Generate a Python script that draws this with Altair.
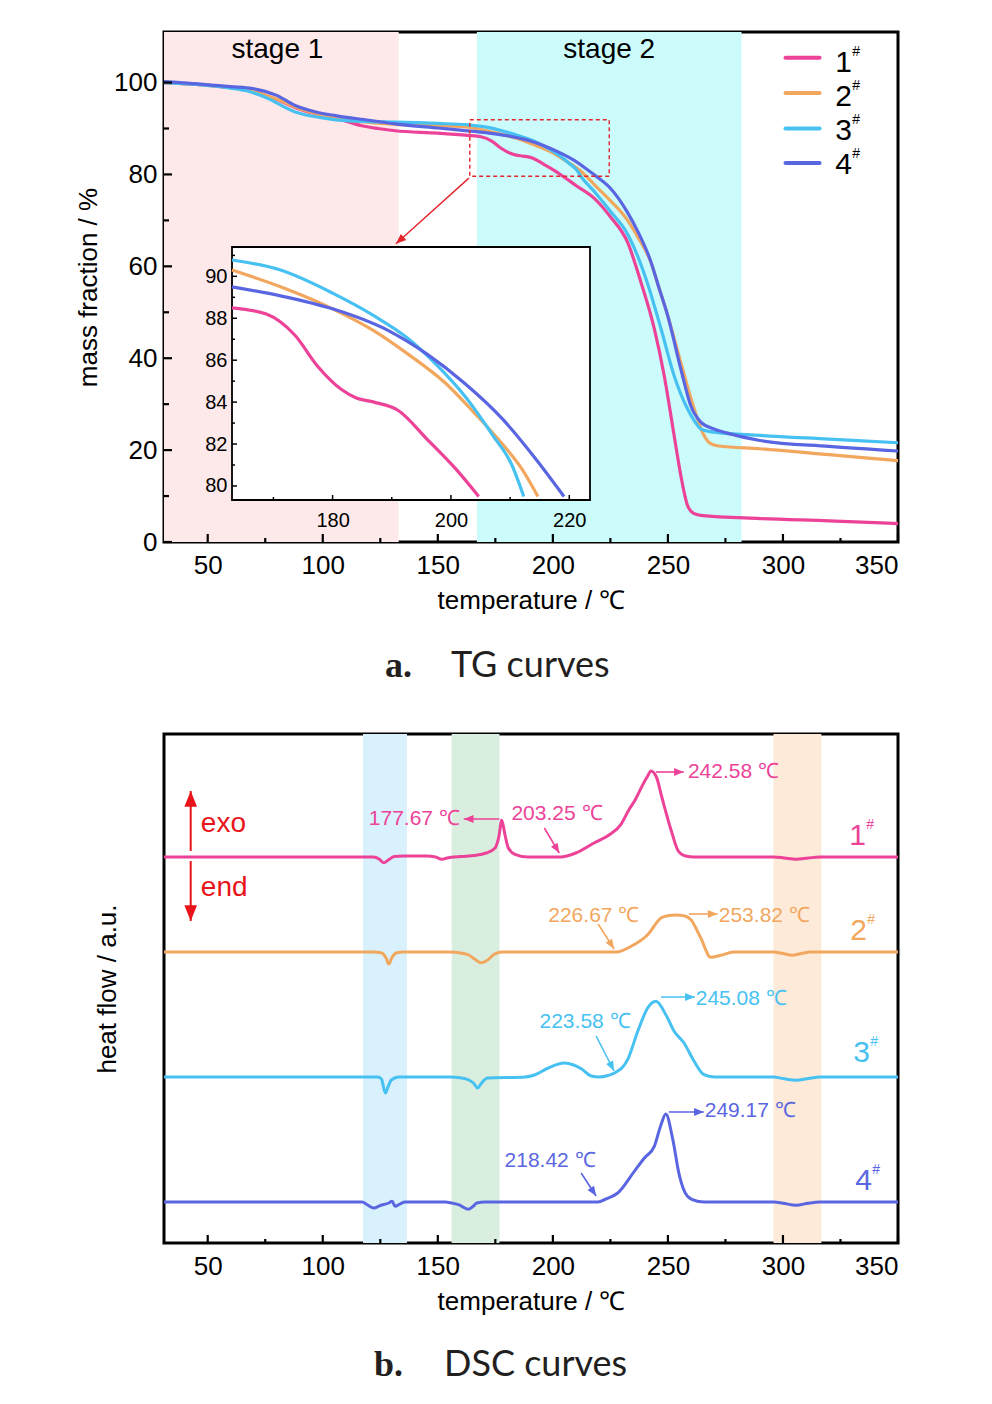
import math
import altair as alt
import pandas as pd

NARROW = "Liberation Sans Narrow, Liberation Sans, Arial, sans-serif"
SERIF = "Liberation Serif, Times New Roman, serif"
CAPF = "Lato, Open Sans, sans-serif"

series = ["1#", "2#", "3#", "4#"]
digits = ["1", "2", "3", "4"]
colors = ["#EC4399", "#F2A75F", "#46C1F1", "#5A66E1"]

# ---------------- TG data (temperature / mass fraction %) ----------------
tg1_t = [31, 45, 60, 68, 80, 90, 100, 110, 117, 124, 131.5, 150, 163, 168.8, 173.6, 177.5, 181.5, 184, 187, 191.1,
         195.9, 200.7, 204.7, 210, 218, 225, 232.5, 238.3, 244.1, 248.4, 252.7, 255.6, 258.5, 261, 264.3, 290, 320, 350]
tg1_m = [100, 99.6, 98.9, 98.3, 96.3, 94.2, 92.8, 91.6, 90.6, 90.0, 89.5, 89.0, 88.5, 88.2, 87.2, 85.7, 84.6, 84.2, 84.0, 83.6,
         82.25, 80.85, 79.5, 77.6, 74.8, 70.8, 65.2, 56.5, 46.4, 36.2, 23.2, 14.5, 8.0, 6.3, 5.8, 5.1, 4.6, 4.0]
tg2_t = [31, 45, 60, 68, 80, 90, 100, 110, 120, 131.5, 150, 163, 171.2, 180, 187, 192.7, 199.1, 203.9, 208.7, 211.9,
         214.7, 218, 225, 232.5, 237, 242.6, 246, 249.9, 255.6, 261.4, 265.7, 268.6, 272, 290, 320, 350]
tg2_m = [100, 99.6, 98.9, 98.3, 96.4, 94.3, 92.9, 91.9, 91.3, 90.9, 90.6, 90.3, 89.5, 88.45, 87.4, 86.3, 84.9, 83.5, 82.0, 80.85,
         79.5, 77.8, 74.3, 70.0, 66.3, 60.9, 55.5, 49.3, 39.1, 29.0, 23.2, 21.4, 20.9, 20.3, 19.0, 17.7]
tg3_t = [31, 45, 60, 67, 75, 88, 100, 107, 120, 131.5, 150, 163, 171.2, 180, 187.1, 192.7, 197.5, 202.3, 207.1, 210.3,
         212.3, 218, 225, 232.5, 241, 247, 252.7, 258.5, 262, 264.3, 270, 290, 320, 350]
tg3_m = [100, 99.6, 98.8, 98.2, 96.8, 93.6, 92.3, 91.8, 91.5, 91.4, 91.1, 90.78, 90.3, 89.2, 88.1, 87.05, 85.8, 84.3, 82.4, 81.0,
         79.5, 76.3, 72.0, 67.0, 56.5, 46.4, 36.2, 29.0, 26.0, 24.6, 23.9, 23.2, 22.4, 21.6]
tg4_t = [31, 38, 50, 60, 69.5, 80, 88, 97, 105.5, 120, 131.5, 150, 163, 171.2, 180, 189.5, 195.9, 202.3, 208.7, 214.3,
         219.1, 225, 232.5, 237, 242.6, 246, 249.9, 255.6, 259.9, 264.3, 270, 275.8, 290, 320, 350]
tg4_m = [100.2, 100, 99.5, 99.1, 98.7, 97.2, 95.0, 93.6, 92.8, 91.8, 91.0, 90.1, 89.5, 89.07, 88.45, 87.4, 86.3, 84.9, 83.2, 81.3,
         79.5, 77.0, 71.7, 67.5, 61.0, 55.5, 49.3, 37.7, 29.7, 26.1, 24.6, 23.7, 22.1, 20.8, 19.8]

tg_x_domain = [31, 350]
tg_y_domain = [0, 111]
tg_bands_lo = [31, 167]
tg_bands_hi = [133, 282]
tg_band_colors = ["#FDE9E9", "#CBFCFB"]
stage_labels = ["stage 1", "stage 2"]
stage_T = [80.3, 224.5]
stage_m = [107, 107]

zoom_box = [163.9, 224.5, 79.6, 91.9]          # T0, T1, m0, m1
zoom_arrow = [163.5, 79.2, 131.8, 64.9]         # from (T, m) to (T, m)

legend_line_T = [301.1, 315.9]
legend_line_m = [105.4, 97.7, 90.0, 82.5]
legend_text_T = 322.7
legend_text_m = [104.2, 96.8, 89.5, 82.0]

inset_x_domain = [163, 223.5]
inset_y_domain = [79.33, 91.4]
inset_x_labels = [180, 200, 220]
inset_x_minor = [170, 190, 210]
inset_y_labels = [80, 82, 84, 86, 88, 90]
inset_y_minor = [81, 83, 85, 87, 89, 91]

x_major = [50, 100, 150, 200, 250, 300, 350]
x_minor = [75, 125, 175, 225, 275, 325]
tg_y_major = [0, 20, 40, 60, 80, 100]
tg_y_minor = [10, 30, 50, 70, 90]

# ---------------- DSC data (temperature / heat flow offset, a.u.) ----------------
dsc_base = [386, 291, 166, 41]
dsc1_t = [31, 117, 122, 124.5, 126.5, 128.5, 131, 135, 145, 149, 151.7, 154, 160, 166, 171, 174.8, 176.5, 177.8, 179.2, 180.6,
          183.5, 189.3, 196, 203.3, 210, 218.1, 224.9, 229.6, 233, 236, 239.2, 241.2, 242.6, 245, 247.4, 251.5, 254.5, 257.6,
          261.7, 296, 300.5, 305.7, 311, 316, 350]
dsc1_d = [0, 0, 0, -2, -5.7, -3, 0.5, 1, 1, 0, -2.3, -1, 0.5, 1.5, 4, 8.7, 20, 36.7, 22, 9.3,
          2.7, 0, 0, 0, 4, 14.3, 22.7, 32.7, 47, 58, 72.9, 81, 86, 80, 59.5, 26, 6, 1,
          0, 0, -1, -2.3, -1, 0, 0]
dsc2_t = [31, 122, 125.6, 127.5, 128.7, 130, 131.8, 135, 155, 160, 163.4, 166, 168.6, 171, 174.7, 178, 200, 227.5, 234, 241.2,
          247, 249.9, 253.5, 257, 260, 264.3, 268.6, 273, 278.6, 296, 300, 304, 308, 312, 350]
dsc2_d = [0, 0, -1, -6, -12, -6, -1, 0, 0, -1, -3, -7, -10.7, -9, -2, 0, 0, 0, 5.7, 17.3,
          34, 36.3, 37, 36.3, 32.3, 14, -5.3, -3.3, 0, 0, -1.5, -3.3, -1.5, 0, 0]
dsc3_t = [31, 124, 125.5, 127.2, 128.5, 129.8, 133, 155, 160.4, 163.5, 165.5, 167.3, 169, 171.6, 188, 192, 198, 205, 209, 212.5,
          216.7, 220, 224, 226.8, 232.5, 236.9, 241.2, 244.8, 249.1, 252.7, 257, 261.4, 265.7, 270, 296, 300, 305.7, 311, 316, 350]
dsc3_d = [0, 0, -2, -16, -9, -3, 0, 0, -1, -3, -6, -11, -6, -1, 0, 2, 9, 14, 12, 8,
          1, 0, 1.5, 4, 17.3, 45.7, 69, 75.7, 62.3, 45.7, 34, 15.7, 2.3, 0, 0, -1.5, -3.3, -1.5, 0, 0]
dsc4_t = [31, 117.1, 119.5, 122.2, 125, 128.7, 130.1, 131.5, 133.5, 135.8, 153.2, 156, 159, 163.3, 165.5, 166.9, 170.5, 219.6, 223, 228.2,
          235.4, 239.8, 244.1, 247, 249.1, 252, 254.9, 258.5, 262.8, 266, 296, 300, 305.7, 311, 316, 350]
dsc4_d = [0, 0, -3, -6, -3.5, -1, 0.7, -4.3, -2, 0, 0, -1, -2.7, -7.3, -4, -1, 0, 0, 3, 9,
          30.7, 44, 55.7, 77.3, 88, 64, 27.3, 5.7, 0.7, 0, 0, -1.2, -3.3, -1.2, 0, 0]

dsc_y_domain = [0, 509]
dsc_bands_lo = [117.5, 156, 295.9]
dsc_bands_hi = [136.6, 176.8, 316.7]
dsc_band_colors = ["#D9F1FC", "#D9EEDF", "#FDEAD8"]

ann_text = ["177.67 ℃", "203.25 ℃", "242.58 ℃", "226.67 ℃", "253.82 ℃", "223.58 ℃", "245.08 ℃", "218.42 ℃", "249.17 ℃"]
ann_series = ["1#", "1#", "1#", "2#", "2#", "3#", "3#", "4#", "4#"]
ann_T = [159.6, 182, 258.7, 198, 272.1, 194.2, 262.1, 179, 266]
ann_v = [424, 429, 471, 327, 327, 221, 244, 82, 132]
ann_align = ["right", "left", "left", "left", "left", "left", "left", "left", "left"]
arr_T1 = [176.8, 196.3, 244.8, 219.7, 259.1, 218.8, 247.0, 212.3, 250.4]
arr_v1 = [424, 415, 471, 319, 329, 207, 246, 70, 131]
arr_T2 = [161.3, 202.8, 256.9, 226.6, 271.6, 226.6, 261.7, 218.8, 265.6]
arr_v2 = [424, 390, 471, 294, 329, 172, 246, 47, 131]

sample_T = [328.8, 329.2, 330.5, 331.4]
sample_v = [407, 312, 190, 62]

exo_T = 42.6
exo_up = [392, 452]
exo_down = [382, 322]
exo_labels = ["exo", "end"]
exo_label_T = 47
exo_label_v = [419, 355]

cap_a = ["a.", "TG curves"]
cap_b = ["b.", "DSC curves"]

W, H = 734, 510
H2 = 509
PX_T = W / (tg_x_domain[1] - tg_x_domain[0])
PX_M = H / (tg_y_domain[1] - tg_y_domain[0])
PX_V = H2 / (dsc_y_domain[1] - dsc_y_domain[0])


def angle(t1, v1, t2, v2, pxv):
    return math.degrees(math.atan2((t2 - t1) * PX_T, (v2 - v1) * pxv)) % 360


def tidy(ts, vs, base=None):
    rows = []
    for k, (t, v) in enumerate(zip(ts, vs)):
        for i, (a, b) in enumerate(zip(t, v)):
            rows.append({"s": series[k], "T": a, "v": b + (base[k] if base else 0), "i": i})
    return pd.DataFrame(rows)


tg_df = tidy([tg1_t, tg2_t, tg3_t, tg4_t], [tg1_m, tg2_m, tg3_m, tg4_m])
dsc_df = tidy([dsc1_t, dsc2_t, dsc3_t, dsc4_t], [dsc1_d, dsc2_d, dsc3_d, dsc4_d], dsc_base)

XS = alt.Scale(domain=tg_x_domain, nice=False, zero=False)
TGY = alt.Scale(domain=tg_y_domain, nice=False, zero=False)
DY = alt.Scale(domain=dsc_y_domain, nice=False, zero=False)
COL = alt.Scale(domain=series, range=colors)
IXS = alt.Scale(domain=inset_x_domain, range=[68, 426], nice=False, zero=False)
IYS = alt.Scale(domain=inset_y_domain, range=[468, 215], nice=False, zero=False)
HEAD = "M0,0L0.4,1L-0.4,1Z"

FS = 26
X_AXIS = alt.Axis(values=x_major, title="temperature / ℃", labelFont=NARROW, labelFontSize=FS,
                  titleFont=NARROW, titleFontSize=FS, titleFontWeight="normal", ticks=False, domain=False,
                  grid=False, labelPadding=10, titlePadding=9, labelColor="black", titleColor="black")
TG_Y_AXIS = alt.Axis(values=tg_y_major, title="mass fraction / %", labelFont=NARROW, labelFontSize=FS,
                     titleFont=NARROW, titleFontSize=FS, titleFontWeight="normal", ticks=False, domain=False,
                     grid=False, labelPadding=7, titlePadding=12, labelColor="black", titleColor="black")
DSC_Y_AXIS = alt.Axis(title="heat flow / a.u.", labels=False, ticks=False, domain=False, grid=False,
                      titleFont=NARROW, titleFontSize=FS, titleFontWeight="normal", titlePadding=44,
                      minExtent=0, titleColor="black")
IN_X_AXIS = alt.Axis(orient="bottom", offset=-42, values=inset_x_labels, title=None, labelFont=NARROW,
                     labelFontSize=20, ticks=False, domain=False, grid=False, labelPadding=10,
                     labelColor="black", zindex=2)
IN_Y_AXIS = alt.Axis(orient="left", offset=-68, values=inset_y_labels, title=None, labelFont=NARROW,
                     labelFontSize=20, ticks=False, domain=False, grid=False, labelPadding=5,
                     labelColor="black", zindex=2)


def tx(f):
    return alt.X(f, scale=XS, axis=X_AXIS, title="temperature / ℃")


def ty(f):
    return alt.Y(f, scale=TGY, axis=TG_Y_AXIS, title="mass fraction / %")


def dy(f):
    return alt.Y(f, scale=DY, axis=DSC_Y_AXIS, title="heat flow / a.u.")


def ix(f):
    return alt.X(f, scale=IXS, axis=IN_X_AXIS, title=None)


def iy(f):
    return alt.Y(f, scale=IYS, axis=IN_Y_AXIS, title=None)


# ======================= TG =======================
bands = alt.Chart(pd.DataFrame({"a": tg_bands_lo, "b": tg_bands_hi, "c": tg_band_colors})).mark_rect().encode(
    x=tx("a:Q"), x2="b:Q", color=alt.Color("c:N", scale=None))

tg_lines = alt.Chart(tg_df).mark_line(strokeWidth=3.2, interpolate="monotone").encode(
    x=tx("T:Q"), y=ty("v:Q"), color=alt.Color("s:N", scale=COL, legend=None), order="i:Q")

stage_txt = alt.Chart(pd.DataFrame({"t": stage_labels, "T": stage_T, "m": stage_m})).mark_text(
    font=NARROW, fontSize=28, color="black").encode(x=tx("T:Q"), y=ty("m:Q"), text="t:N")

zbox = alt.Chart(pd.DataFrame({"a": [zoom_box[0]], "b": [zoom_box[1]], "c": [zoom_box[2]], "d": [zoom_box[3]]})).mark_rect(
    fill="transparent", stroke="#E3262B", strokeDash=[4, 3], strokeWidth=1.4).encode(
    x=tx("a:Q"), x2="b:Q", y=ty("c:Q"), y2="d:Q")

za_df = pd.DataFrame({"a": [zoom_arrow[0]], "b": [zoom_arrow[1]], "c": [zoom_arrow[2]], "d": [zoom_arrow[3]],
                      "ang": [angle(*zoom_arrow, PX_M)]})
zarrow = alt.Chart(za_df).mark_rule(color="#E3262B", strokeWidth=1.4).encode(
    x=tx("a:Q"), y=ty("b:Q"), x2="c:Q", y2="d:Q")
zhead = alt.Chart(za_df).mark_point(shape=HEAD, filled=True, color="#E3262B", size=420, opacity=1).encode(
    x=tx("c:Q"), y=ty("d:Q"), angle=alt.Angle("ang:Q", scale=None))

leg_df = pd.DataFrame({"s": series, "d": digits, "m": legend_line_m, "tm": legend_text_m,
                       "a": [legend_line_T[0]] * 4, "b": [legend_line_T[1]] * 4, "tt": [legend_text_T] * 4})
leg_lines = alt.Chart(leg_df).mark_rule(strokeWidth=4, strokeCap="round").encode(
    x=tx("a:Q"), x2="b:Q", y=ty("m:Q"), color=alt.Color("s:N", scale=COL, legend=None))
leg_digits = alt.Chart(leg_df).mark_text(font=NARROW, fontSize=30, align="left", color="black").encode(
    x=tx("tt:Q"), y=ty("tm:Q"), text="d:N")
leg_hash = alt.Chart(leg_df).mark_text(font=NARROW, fontSize=14, align="left", color="black", dx=17, dy=-11).encode(
    x=tx("tt:Q"), y=ty("tm:Q"), text=alt.value("#"))

xt_major = alt.Chart(pd.DataFrame({"T": x_major})).mark_rule(color="black", strokeWidth=2.2).encode(
    x=tx("T:Q"), y=alt.value(H), y2=alt.value(H - 8))
xt_minor = alt.Chart(pd.DataFrame({"T": x_minor})).mark_rule(color="black", strokeWidth=2.2).encode(
    x=tx("T:Q"), y=alt.value(H), y2=alt.value(H - 4))
yt_major = alt.Chart(pd.DataFrame({"m": tg_y_major})).mark_rule(color="black", strokeWidth=2.2).encode(
    y=ty("m:Q"), x=alt.value(0), x2=alt.value(8))
yt_minor = alt.Chart(pd.DataFrame({"m": tg_y_minor})).mark_rule(color="black", strokeWidth=2.2).encode(
    y=ty("m:Q"), x=alt.value(0), x2=alt.value(5))

capA1 = alt.Chart(pd.DataFrame({"c": [cap_a[0]]})).mark_text(font=SERIF, fontSize=36, fontWeight="bold", align="left",
                                                            baseline="alphabetic", color="#231F20").encode(
    x=alt.value(221), y=alt.value(645), text="c:N")
capA2 = alt.Chart(pd.DataFrame({"c": [cap_a[1]]})).mark_text(font=CAPF, fontSize=36, align="left",
                                                            baseline="alphabetic", color="#231F20").encode(
    x=alt.value(287), y=alt.value(645), text="c:N")

main_tg = alt.layer(bands, tg_lines, stage_txt, zbox, zarrow, zhead, leg_lines, leg_digits, leg_hash,
                    xt_major, xt_minor, yt_major, yt_minor, capA1, capA2)

# ---- inset ----
in_df = tg_df[(tg_df["T"] >= inset_x_domain[0]) & (tg_df["T"] <= inset_x_domain[1]) &
              (tg_df["v"] >= inset_y_domain[0]) & (tg_df["v"] <= inset_y_domain[1])]

inset_bg = alt.Chart(pd.DataFrame({"a": [inset_x_domain[0]], "b": [inset_x_domain[1]],
                                   "c": [inset_y_domain[0]], "d": [inset_y_domain[1]]})).mark_rect(
    fill="white", stroke="black", strokeWidth=1.8).encode(x=ix("a:Q"), x2="b:Q", y=iy("c:Q"), y2="d:Q")
inset_lines = alt.Chart(in_df).mark_line(strokeWidth=3.2, interpolate="monotone").encode(
    x=ix("T:Q"), y=iy("v:Q"), color=alt.Color("s:N", scale=COL, legend=None), order="i:Q")
ixt1 = alt.Chart(pd.DataFrame({"T": inset_x_labels})).mark_rule(color="black", strokeWidth=1.5).encode(
    x=ix("T:Q"), y=alt.value(468), y2=alt.value(463))
ixt2 = alt.Chart(pd.DataFrame({"T": inset_x_minor})).mark_rule(color="black", strokeWidth=1.5).encode(
    x=ix("T:Q"), y=alt.value(468), y2=alt.value(465))
iyt1 = alt.Chart(pd.DataFrame({"m": inset_y_labels})).mark_rule(color="black", strokeWidth=1.5).encode(
    y=iy("m:Q"), x=alt.value(68), x2=alt.value(73))
iyt2 = alt.Chart(pd.DataFrame({"m": inset_y_minor})).mark_rule(color="black", strokeWidth=1.5).encode(
    y=iy("m:Q"), x=alt.value(68), x2=alt.value(71))

inset = alt.layer(inset_bg, inset_lines, ixt1, ixt2, iyt1, iyt2)

tg = alt.layer(main_tg, inset).resolve_scale(x="independent", y="independent").properties(width=W, height=H)

# ======================= DSC =======================
dbands = alt.Chart(pd.DataFrame({"a": dsc_bands_lo, "b": dsc_bands_hi, "c": dsc_band_colors})).mark_rect().encode(
    x=tx("a:Q"), x2="b:Q", color=alt.Color("c:N", scale=None))

dsc_lines = alt.Chart(dsc_df).mark_line(strokeWidth=3, interpolate="monotone").encode(
    x=tx("T:Q"), y=dy("v:Q"), color=alt.Color("s:N", scale=COL, legend=None), order="i:Q")

ann_df = pd.DataFrame({"t": ann_text, "s": ann_series, "T": ann_T, "v": ann_v, "al": ann_align})
ann_r = alt.Chart(ann_df[ann_df["al"] == "right"]).mark_text(font=NARROW, fontSize=21, align="right").encode(
    x=tx("T:Q"), y=dy("v:Q"), text="t:N", color=alt.Color("s:N", scale=COL, legend=None))
ann_l = alt.Chart(ann_df[ann_df["al"] == "left"]).mark_text(font=NARROW, fontSize=21, align="left").encode(
    x=tx("T:Q"), y=dy("v:Q"), text="t:N", color=alt.Color("s:N", scale=COL, legend=None))

arr_df = pd.DataFrame({"s": ann_series, "a": arr_T1, "b": arr_v1, "c": arr_T2, "d": arr_v2})
arr_df["ang"] = [angle(a, b, c, d, PX_V) for a, b, c, d in zip(arr_T1, arr_v1, arr_T2, arr_v2)]
arr_lines = alt.Chart(arr_df).mark_rule(strokeWidth=1.6).encode(
    x=tx("a:Q"), y=dy("b:Q"), x2="c:Q", y2="d:Q", color=alt.Color("s:N", scale=COL, legend=None))
arr_heads = alt.Chart(arr_df).mark_point(shape=HEAD, filled=True, size=380, opacity=1).encode(
    x=tx("c:Q"), y=dy("d:Q"), angle=alt.Angle("ang:Q", scale=None),
    color=alt.Color("s:N", scale=COL, legend=None))

smp_df = pd.DataFrame({"s": series, "d": digits, "T": sample_T, "v": sample_v})
smp_digits = alt.Chart(smp_df).mark_text(font=NARROW, fontSize=30, align="left").encode(
    x=tx("T:Q"), y=dy("v:Q"), text="d:N", color=alt.Color("s:N", scale=COL, legend=None))
smp_hash = alt.Chart(smp_df).mark_text(font=NARROW, fontSize=14, align="left", dx=17, dy=-11).encode(
    x=tx("T:Q"), y=dy("v:Q"), text=alt.value("#"), color=alt.Color("s:N", scale=COL, legend=None))

exo_df = pd.DataFrame({"T": [exo_T, exo_T], "a": [exo_up[0], exo_down[0]], "b": [exo_up[1], exo_down[1]]})
exo_df["ang"] = [angle(exo_T, a, exo_T, b, PX_V) for a, b in zip(exo_df["a"], exo_df["b"])]
exo_rule = alt.Chart(exo_df).mark_rule(color="#E8141A", strokeWidth=2).encode(
    x=tx("T:Q"), y=dy("a:Q"), y2="b:Q")
exo_head = alt.Chart(exo_df).mark_point(shape=HEAD, filled=True, color="#E8141A", size=1000, opacity=1).encode(
    x=tx("T:Q"), y=dy("b:Q"), angle=alt.Angle("ang:Q", scale=None))
exo_txt = alt.Chart(pd.DataFrame({"t": exo_labels, "T": [exo_label_T] * 2, "v": exo_label_v})).mark_text(
    font=NARROW, fontSize=28, align="left", color="#E8141A").encode(x=tx("T:Q"), y=dy("v:Q"), text="t:N")

dxt_major = alt.Chart(pd.DataFrame({"T": x_major})).mark_rule(color="black", strokeWidth=2.2).encode(
    x=tx("T:Q"), y=alt.value(H2), y2=alt.value(H2 - 8))
dxt_minor = alt.Chart(pd.DataFrame({"T": x_minor})).mark_rule(color="black", strokeWidth=2.2).encode(
    x=tx("T:Q"), y=alt.value(H2), y2=alt.value(H2 - 4))

capB1 = alt.Chart(pd.DataFrame({"c": [cap_b[0]]})).mark_text(font=SERIF, fontSize=36, fontWeight="bold",
                                                            align="left", baseline="alphabetic",
                                                            color="#231F20").encode(
    x=alt.value(210), y=alt.value(642), text="c:N")
capB2 = alt.Chart(pd.DataFrame({"c": [cap_b[1]]})).mark_text(font=CAPF, fontSize=36, align="left",
                                                            baseline="alphabetic", color="#231F20").encode(
    x=alt.value(280), y=alt.value(642), text="c:N")

dsc = alt.layer(dbands, dsc_lines, ann_r, ann_l, arr_lines, arr_heads, smp_digits, smp_hash, exo_rule, exo_head,
                exo_txt, dxt_major, dxt_minor, capB1, capB2).properties(width=W, height=H2)

chart = alt.vconcat(tg, dsc, spacing=46).properties(
    padding={"left": 66, "top": 22, "right": 5, "bottom": 5}
).configure_view(stroke="black", strokeWidth=3).configure_axis(grid=False)

chart.save("out.html", embed_options={"renderer": "svg", "actions": False})
